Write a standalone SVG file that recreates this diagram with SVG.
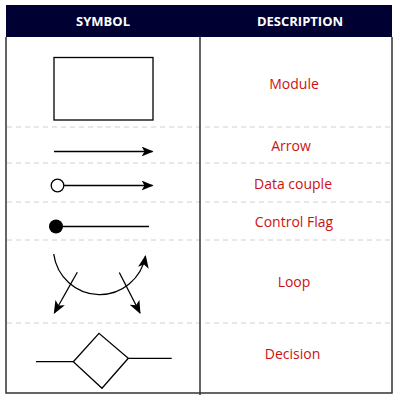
<svg xmlns="http://www.w3.org/2000/svg" width="400" height="400" viewBox="0 0 400 400">
  <defs>
    <marker id="head" viewBox="0 0 12 10" refX="11" refY="5" markerWidth="12" markerHeight="10" markerUnits="userSpaceOnUse" orient="auto">
      <path d="M0,0 L12,5 L0,10 L3,5 Z" fill="#000"/>
    </marker>
    <marker id="head-lg" viewBox="0 0 12 10" refX="11" refY="5" markerWidth="13" markerHeight="11" markerUnits="userSpaceOnUse" orient="auto">
      <path d="M0,0 L12,5 L0,10 L3,5 Z" fill="#000"/>
    </marker>
  </defs>
  <style>
    .hdr { font-family: "Open Sans", "Liberation Sans", sans-serif; font-weight: bold; font-size: 13px; fill: #fff; text-anchor: middle; }
    .lbl { font-family: "Open Sans", "Liberation Sans", sans-serif; font-size: 14px; fill: #cc1111; text-anchor: middle; }
    .sep { stroke: #d0d0d0; stroke-width: 1; stroke-dasharray: 5 4; }
    .sym { fill: none; stroke: #000; stroke-width: 1.3; }
  </style>

  <rect x="0" y="0" width="400" height="400" fill="#fff"/>

  <!-- header band -->
  <rect x="6" y="5" width="386" height="32" fill="#000033"/>
  <text class="hdr" x="103" y="26">SYMBOL</text>
  <text class="hdr" x="300" y="26">DESCRIPTION</text>

  <!-- row separators -->
  <g id="separators">
    <line class="sep" x1="7" y1="127" x2="391" y2="127"/>
    <line class="sep" x1="7" y1="163" x2="391" y2="163"/>
    <line class="sep" x1="7" y1="202" x2="391" y2="202"/>
    <line class="sep" x1="7" y1="240" x2="391" y2="240"/>
    <line class="sep" x1="7" y1="323" x2="391" y2="323"/>
  </g>

  <!-- table frame -->
  <g id="frame" fill="none" stroke="#333" stroke-width="1.5">
    <polyline points="6,37 6,393 392,393 392,37"/>
    <line x1="200" y1="37" x2="200" y2="395"/>
  </g>

  <g id="module">
    <rect class="sym" x="54" y="57.5" width="99" height="62.5" stroke="#333"/>
    <text class="lbl" x="294" y="89">Module</text>
  </g>

  <g id="arrow">
    <line class="sym" x1="54" y1="151.5" x2="152.5" y2="151.5" marker-end="url(#head)"/>
    <text class="lbl" x="291" y="151">Arrow</text>
  </g>

  <g id="data-couple">
    <line class="sym" x1="64" y1="185.5" x2="152.5" y2="185.5" marker-end="url(#head)"/>
    <circle cx="57.5" cy="185.5" r="6.3" fill="#fff" stroke="#000" stroke-width="1.3"/>
    <text class="lbl" x="293" y="189">Data couple</text>
  </g>

  <g id="control-flag">
    <line class="sym" x1="60" y1="226.5" x2="149" y2="226.5"/>
    <circle cx="56" cy="226.5" r="7" fill="#000"/>
    <text class="lbl" x="294" y="227">Control Flag</text>
  </g>

  <g id="loop">
    <path class="sym" d="M53.7,254 A46.5,47 0 0 0 145.5,256" marker-end="url(#head-lg)"/>
    <line class="sym" x1="77.3" y1="272.3" x2="54.3" y2="313" marker-end="url(#head-lg)"/>
    <line class="sym" x1="119.3" y1="272.5" x2="140" y2="313" marker-end="url(#head-lg)"/>
    <text class="lbl" x="294" y="287">Loop</text>
  </g>

  <g id="decision">
    <line class="sym" x1="36" y1="361.7" x2="73.3" y2="361.7"/>
    <polygon class="sym" points="73.3,361.7 99,333.3 128.3,358.3 102,388.3"/>
    <line class="sym" x1="128.3" y1="358.3" x2="171.7" y2="358.3" stroke="#333"/>
    <text class="lbl" x="292.5" y="359">Decision</text>
  </g>
</svg>
